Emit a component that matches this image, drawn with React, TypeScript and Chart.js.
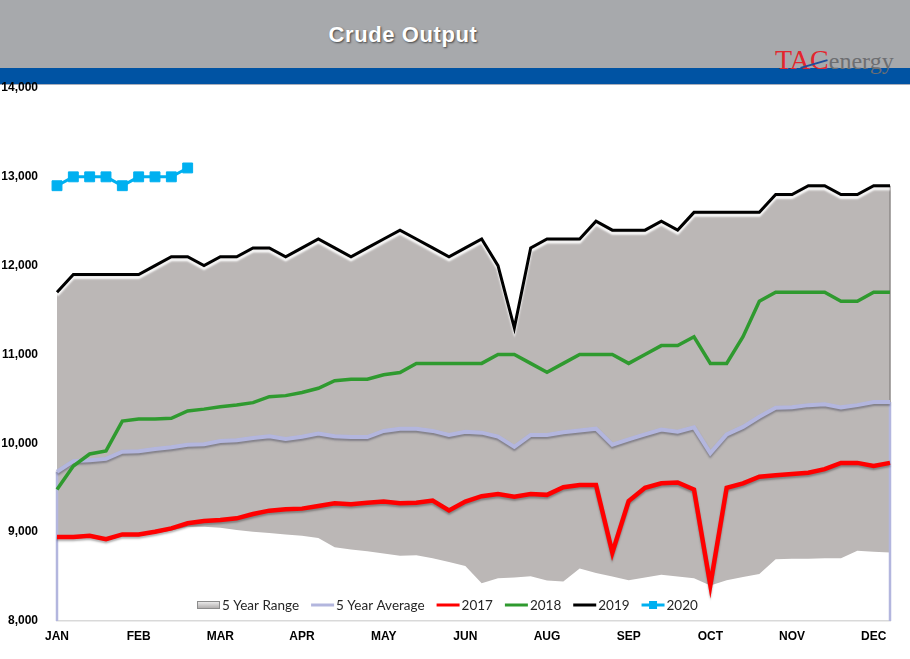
import React, { useEffect, useRef } from 'react';
import { Chart, registerables } from 'chart.js';

Chart.register(...registerables);

// ---- Data ----
const monthTicks = ['JAN', 'FEB', 'MAR', 'APR', 'MAY', 'JUN', 'AUG', 'SEP', 'OCT', 'NOV', 'DEC'];
const weeks = Array.from({ length: 52 }, (_, i) => `W${i + 1}`);

const rangeLow = [
  8925, 8925, 8940, 8900, 8955, 8955, 8985, 9020, 9060, 9060,
  9050, 9025, 9005, 8990, 8975, 8960, 8935, 8830, 8805, 8785,
  8760, 8735, 8740, 8705, 8665, 8620, 8425, 8480, 8490, 8505,
  8455, 8445, 8590, 8540, 8500, 8460, 8490, 8520, 8500, 8480,
  8400, 8460, 8495, 8530, 8695, 8700, 8700, 8705, 8705, 8790,
  8780, 8770,
];

const avg5 = [
  9680, 9800, 9810, 9825, 9905, 9912, 9935, 9955, 9985, 9990,
  10025, 10035, 10060, 10080, 10050, 10075, 10110, 10080, 10070, 10070,
  10140, 10165, 10165, 10140, 10095, 10130, 10120, 10075, 9960, 10095,
  10095, 10125, 10145, 10165, 9985, 10045, 10100, 10155, 10130, 10180,
  9890, 10100, 10185, 10300, 10400, 10405, 10430, 10440, 10405, 10430,
  10465, 10465,
];

const y2017 = [
  8945, 8945, 8960, 8920, 8975, 8975, 9005, 9043, 9100, 9125,
  9137, 9156, 9204, 9242, 9257, 9265, 9295, 9325, 9315, 9330,
  9345, 9325, 9330, 9355, 9245, 9345, 9405, 9430, 9400, 9430,
  9420, 9505, 9530, 9530, 8770, 9350, 9500, 9550, 9560, 9480,
  8405, 9500, 9550, 9625, 9640, 9655, 9670, 9710, 9780, 9780,
  9745, 9780,
];

const y2018 = [
  9480, 9745, 9880, 9915, 10250, 10275, 10275, 10282, 10365, 10385,
  10412, 10432, 10458, 10525, 10537, 10572, 10620, 10705, 10722, 10722,
  10772, 10797, 10900, 10900, 10900, 10900, 10900, 11000, 11000, 10900,
  10800, 10900, 11000, 11000, 11000, 10900, 11000, 11100, 11100, 11200,
  10900, 10900, 11200, 11600, 11700, 11700, 11700, 11700, 11600, 11600,
  11700, 11700,
];

const y2019 = [
  11700, 11900, 11900, 11900, 11900, 11900, 12000, 12100, 12100, 12000,
  12100, 12100, 12200, 12200, 12100, 12200, 12300, 12200, 12100, 12200,
  12300, 12400, 12300, 12200, 12100, 12200, 12300, 12000, 11300, 12200,
  12300, 12300, 12300, 12500, 12400, 12400, 12400, 12500, 12400, 12600,
  12600, 12600, 12600, 12600, 12800, 12800, 12900, 12900, 12800, 12800,
  12900, 12900,
];

const y2020 = [12900, 13000, 13000, 13000, 12900, 13000, 13000, 13000, 13100];

// the top of the 5-year range follows the 2019 line
const rangeHigh = y2019;

// ---- Styles ----
const GRAY_FILL = '#BBB7B6';
const LAVENDER = '#B3B6DE';
const RED = '#FF0000';
const GREEN = '#2F9A2F';
const BLACK = '#000000';
const BLUE = '#00B0F0';

const legendItems = [
  { label: '5 Year Range', kind: 'range', color: GRAY_FILL },
  { label: '5 Year Average', kind: 'line', color: LAVENDER },
  { label: '2017', kind: 'line', color: RED },
  { label: '2018', kind: 'line', color: GREEN },
  { label: '2019', kind: 'line', color: BLACK },
  { label: '2020', kind: 'marker', color: BLUE },
];

const shadowPlugin = {
  id: 'lineShadows',
  beforeDatasetDraw(chart: any, args: any) {
    const ds: any = chart.data.datasets[args.index];
    const ctx = chart.ctx;
    ctx.save();
    if (ds.shadowColor) {
      ctx.shadowColor = ds.shadowColor;
      ctx.shadowOffsetX = 0;
      ctx.shadowOffsetY = ds.shadowOffsetY ?? 2;
      ctx.shadowBlur = ds.shadowBlur ?? 2;
    }
  },
  afterDatasetDraw(chart: any, args: any) {
    chart.ctx.restore();
    if (args.index === 1) {
      // edges of the range area / average drop lines
      const ctx = chart.ctx;
      const xs = chart.scales.x;
      const ys = chart.scales.y;
      const bottom = chart.chartArea.bottom;
      const last = rangeHigh.length - 1;
      const xr = xs.getPixelForValue(last);
      const xl = xs.getPixelForValue(0);
      ctx.save();
      ctx.lineWidth = 1.5;
      ctx.strokeStyle = '#8E8A89';
      ctx.beginPath();
      ctx.moveTo(xr, ys.getPixelForValue(rangeHigh[last]));
      ctx.lineTo(xr, ys.getPixelForValue(rangeLow[last]));
      ctx.stroke();
      ctx.lineWidth = 2.5;
      ctx.strokeStyle = LAVENDER;
      ctx.beginPath();
      ctx.moveTo(xl, ys.getPixelForValue(avg5[0]));
      ctx.lineTo(xl, bottom);
      ctx.moveTo(xr, ys.getPixelForValue(avg5[last]));
      ctx.lineTo(xr, bottom);
      ctx.stroke();
      ctx.restore();
    }
  },
};

const legendPlugin = {
  id: 'insideLegend',
  afterDraw(chart: any) {
    const ctx = chart.ctx;
    ctx.save();
    ctx.font = '13.5px Lato, "Liberation Sans", sans-serif';
    ctx.textBaseline = 'middle';
    ctx.textAlign = 'left';
    let x = 197;
    const y = 605;
    for (const item of legendItems) {
      const w = 23;
      if (item.kind === 'range') {
        const g = ctx.createLinearGradient(0, y - 4, 0, y + 4);
        g.addColorStop(0, '#F2F2F2');
        g.addColorStop(1, '#A9A6A5');
        ctx.fillStyle = g;
        ctx.fillRect(x, y - 4, w, 8);
        ctx.strokeStyle = '#8C8C8C';
        ctx.lineWidth = 1;
        ctx.strokeRect(x + 0.5, y - 3.5, w - 1, 7);
      } else {
        ctx.strokeStyle = item.color;
        ctx.lineWidth = 3;
        ctx.beginPath();
        ctx.moveTo(x, y);
        ctx.lineTo(x + w, y);
        ctx.stroke();
        if (item.kind === 'marker') {
          ctx.fillStyle = item.color;
          ctx.fillRect(x + w / 2 - 4, y - 4, 8, 8);
        }
      }
      x += w + 2;
      ctx.fillStyle = '#262626';
      ctx.fillText(item.label, x, y + 1);
      x += ctx.measureText(item.label).width + 12;
    }
    ctx.restore();
  },
};

export default function App() {
  const canvasRef = useRef<HTMLCanvasElement>(null);

  useEffect(() => {
    const canvas = canvasRef.current;
    if (!canvas) return;
    const tickFont = { family: '"Liberation Sans", Arial, sans-serif', size: 12, weight: 'bold' as const };
    const chart = new Chart(canvas, {
      type: 'line',
      data: {
        labels: weeks,
        datasets: [
          {
            label: 'range low',
            data: rangeLow,
            borderWidth: 0,
            pointRadius: 0,
            fill: false,
            order: 10,
          },
          {
            label: '5 Year Range',
            data: rangeHigh,
            borderWidth: 0,
            borderColor: 'rgba(0,0,0,0)',
            backgroundColor: GRAY_FILL,
            pointRadius: 0,
            fill: '-1',
            order: 9,
          },
          {
            label: '5 Year Average',
            data: avg5,
            borderColor: LAVENDER,
            borderWidth: 4,
            pointRadius: 0,
            fill: false,
            order: 5,
            shadowColor: 'rgba(60,60,80,0.45)',
            shadowOffsetY: 2,
            shadowBlur: 2,
          } as any,
          {
            label: '2017',
            data: y2017,
            borderColor: RED,
            borderWidth: 4.5,
            pointRadius: 0,
            fill: false,
            order: 4,
            shadowColor: 'rgba(0,0,0,0.3)',
            shadowOffsetY: 2,
            shadowBlur: 2,
          } as any,
          {
            label: '2018',
            data: y2018,
            borderColor: GREEN,
            borderWidth: 3.5,
            pointRadius: 0,
            fill: false,
            order: 3,
          },
          {
            label: '2019',
            data: y2019,
            borderColor: BLACK,
            borderWidth: 3,
            pointRadius: 0,
            fill: false,
            order: 2,
            shadowColor: 'rgba(255,255,255,0.95)',
            shadowOffsetY: 3,
            shadowBlur: 2,
          } as any,
          {
            label: '2020',
            data: y2020,
            borderColor: BLUE,
            backgroundColor: BLUE,
            borderWidth: 3,
            pointStyle: 'rect',
            pointRadius: 7,
            pointBorderWidth: 1,
            pointBorderColor: BLUE,
            pointBackgroundColor: BLUE,
            fill: false,
            order: 1,
          },
        ],
      },
      options: {
        responsive: false,
        animation: false,
        events: [],
        layout: { padding: { top: 88, right: 20, bottom: 8, left: 0 } },
        plugins: {
          legend: { display: false },
          tooltip: { enabled: false },
          title: { display: false },
        },
        elements: { line: { tension: 0 } },
        scales: {
          x: {
            grid: { display: false, drawTicks: false },
            border: { display: true, color: '#D9D9D9', width: 1.5 },
            ticks: {
              autoSkip: false,
              maxRotation: 0,
              minRotation: 0,
              padding: 8,
              color: '#000',
              font: tickFont,
              callback: (_v: any, i: number) => (i % 5 === 0 ? monthTicks[i / 5] : ''),
            },
            afterFit: (s: any) => {
              s.height = 30;
            },
          },
          y: {
            min: 8000,
            max: 14000,
            grid: { display: false, drawTicks: false },
            border: { display: false },
            ticks: {
              stepSize: 1000,
              padding: 19,
              color: '#000',
              font: tickFont,
              callback: (v: any) => Number(v).toLocaleString('en-US'),
            },
            afterFit: (s: any) => {
              s.width = 57;
            },
          },
        },
      },
      plugins: [shadowPlugin, legendPlugin],
    });
    return () => chart.destroy();
  }, []);

  return (
    <div
      style={{
        position: 'absolute',
        left: 0,
        top: 0,
        width: 910,
        height: 659,
        background: '#ffffff',
        overflow: 'hidden',
      }}
    >
      <div style={{ position: 'absolute', left: 0, top: 0, width: 910, height: 68, background: '#A7A9AC' }} />
      <div style={{ position: 'absolute', left: 0, top: 68, width: 910, height: 16, background: '#0053A3' }} />
      <div style={{ position: 'absolute', left: 0, top: 84, width: 910, height: 1, background: '#A9AEBB' }} />
      <div
        style={{
          position: 'absolute',
          left: 0,
          top: 24,
          width: 806,
          textAlign: 'center',
          color: '#ffffff',
          fontFamily: '"Liberation Sans", Arial, sans-serif',
          fontWeight: 'bold',
          fontSize: 22,
          lineHeight: '22px',
          letterSpacing: '0.6px',
          textShadow: '1px 1px 2px rgba(0,0,0,0.6)',
        }}
      >
        Crude Output
      </div>
      <div
        style={{
          position: 'absolute',
          left: 775,
          top: 46,
          whiteSpace: 'nowrap',
          fontFamily: '"Liberation Serif", "DejaVu Serif", serif',
          lineHeight: '27px',
        }}
      >
        <span style={{ color: '#E3262E', fontSize: 28 }}>TAC</span>
        <span style={{ color: '#6D6E71', fontSize: 24 }}>energy</span>
      </div>
      <div
        style={{
          position: 'absolute',
          left: 800,
          top: 63,
          width: 28,
          height: 2,
          background: '#1F4E9A',
          transform: 'rotate(-16deg)',
        }}
      />
      <canvas
        ref={canvasRef}
        width={910}
        height={659}
        style={{ position: 'absolute', left: 0, top: 0, width: 910, height: 659 }}
      />
    </div>
  );
}
